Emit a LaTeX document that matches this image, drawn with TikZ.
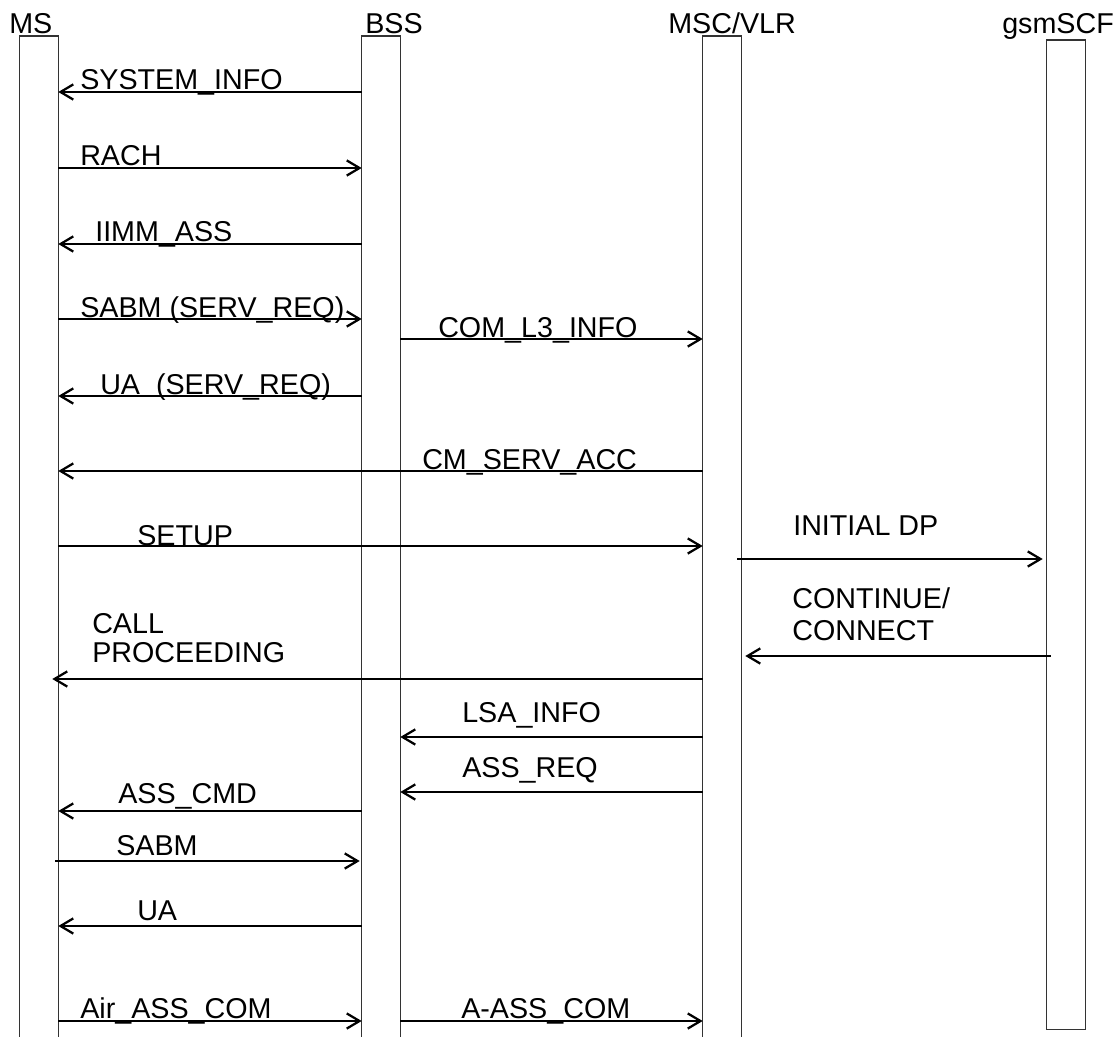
\documentclass[tikz,border=0pt]{standalone}
\usepackage{fontspec}
\setmainfont{Liberation Sans}
\usetikzlibrary{arrows.meta,positioning,calc}

\begin{document}
\begin{tikzpicture}[
  x=0.025cm, y=-0.025cm,
  lifebox/.style={
    rectangle,
    draw=none,
    minimum width=0.95cm,
    inner sep=0pt,
    anchor=north
  },
  lifeline/.style={draw=black!80, line width=0.8pt},
  msg/.style={-{Straight Barb[length=0.32cm, width=0.38cm]}, line width=1.6pt},
  head/.style={
    anchor=base west,
    inner sep=0pt,
    font=\fontsize{20.4}{22}\selectfont
  },
  lbl/.style={
    anchor=base west,
    inner sep=0pt,
    align=left,
    font=\fontsize{20.4}{22}\selectfont
  }
]

\useasboundingbox (0,0) rectangle (1117,1037);

% entities
\node[lifebox, minimum height=25.025cm] (ms) at (39,36) {};
\node[lifebox, minimum height=25.025cm] (bss) at (381,36) {};
\node[lifebox, minimum height=25.025cm] (msc) at (722,36) {};
\node[lifebox, minimum height=24.725cm] (scf) at (1066,40) {};

\node[head] (msname) at (9,34) {MS};
\node[head] (bssname) at (365,34) {BSS};
\node[head] (mscname) at (668,34) {MSC/VLR};
\node[head] (scfname) at (1002,34) {gsmSCF};

\foreach \p in {ms,bss,msc} {
  \draw[lifeline] (\p.south west) |- (\p.north east) -- (\p.south east);
}
\draw[lifeline] (scf.north west) rectangle (scf.south east);

% radio access
\draw[msg] ($(bss.north west)+(0,56)$) -- ($(ms.north east)+(0,56)$);
\node[lbl] (sysinfo) at (80,90) {SYSTEM\_INFO};

\draw[msg] ($(ms.north east)+(0,132)$) -- ($(bss.north west)+(0,132)$);
\node[lbl] (rach) at (80,166) {RACH};

\draw[msg] ($(bss.north west)+(0,208)$) -- ($(ms.north east)+(0,208)$);
\node[lbl] (immass) at (95,242) {IIMM\_ASS};

\draw[msg] ($(ms.north east)+(0,283)$) -- ($(bss.north west)+(0,283)$);
\node[lbl] (sabmreq) at (80,318) {SABM (SERV\_REQ)};

\draw[msg] ($(bss.north east)+(0,303)$) -- ($(msc.north west)+(0,303)$);
\node[lbl] (coml3) at (438,337) {COM\_L3\_INFO};

\draw[msg] ($(bss.north west)+(0,360)$) -- ($(ms.north east)+(0,360)$);
\node[lbl] (uareq) at (100,394) {UA\ \ (SERV\_REQ)};

\draw[msg] ($(msc.north west)+(0,435)$) -- ($(ms.north east)+(0,435)$);
\node[lbl] (servacc) at (422,469) {CM\_SERV\_ACC};

% call setup
\draw[msg] ($(ms.north east)+(0,510)$) -- ($(msc.north west)+(0,510)$);
\node[lbl] (setup) at (137,545) {SETUP};

\draw[msg] ($(msc.north east)+(-4,523)$) -- ($(scf.north west)+(-4,519)$);
\node[lbl] (initdp) at (793,535) {INITIAL DP};

\draw[msg] ($(scf.north west)+(4,616)$) -- ($(msc.north east)+(4,620)$);
\node[lbl, anchor=south west, font=\fontsize{20.4}{22.5}\selectfont] (cont) at (792,641) {CONTINUE/\\CONNECT};

\draw[msg] ($(msc.north west)+(0,643)$) -- ($(ms.north east)+(-6,643)$);
\node[lbl, anchor=south west, font=\fontsize{20.4}{20.7}\selectfont] (callproc) at (92,663) {CALL\\PROCEEDING};

% assignment
\draw[msg] ($(msc.north west)+(0,701)$) -- ($(bss.north east)+(0,701)$);
\node[lbl] (lsainfo) at (462,722) {LSA\_INFO};

\draw[msg] ($(msc.north west)+(0,756)$) -- ($(bss.north east)+(0,756)$);
\node[lbl] (assreq) at (462,777) {ASS\_REQ};

\draw[msg] ($(bss.north west)+(0,775)$) -- ($(ms.north east)+(0,775)$);
\node[lbl] (asscmd) at (118,803) {ASS\_CMD};

\draw[msg] ($(ms.north east)+(-3,825)$) -- ($(bss.north west)+(-2,825)$);
\node[lbl] (sabm) at (116,855) {SABM};

\draw[msg] ($(bss.north west)+(0,890)$) -- ($(ms.north east)+(0,890)$);
\node[lbl] (ua) at (137,920) {UA};

\draw[msg] ($(ms.north east)+(0,985)$) -- ($(bss.north west)+(0,985)$);
\node[lbl] (aircom) at (80,1018) {Air\_ASS\_COM};

\draw[msg] ($(bss.north east)+(0,985)$) -- ($(msc.north west)+(0,985)$);
\node[lbl] (acom) at (461,1018) {A-ASS\_COM};

\end{tikzpicture}
\end{document}
